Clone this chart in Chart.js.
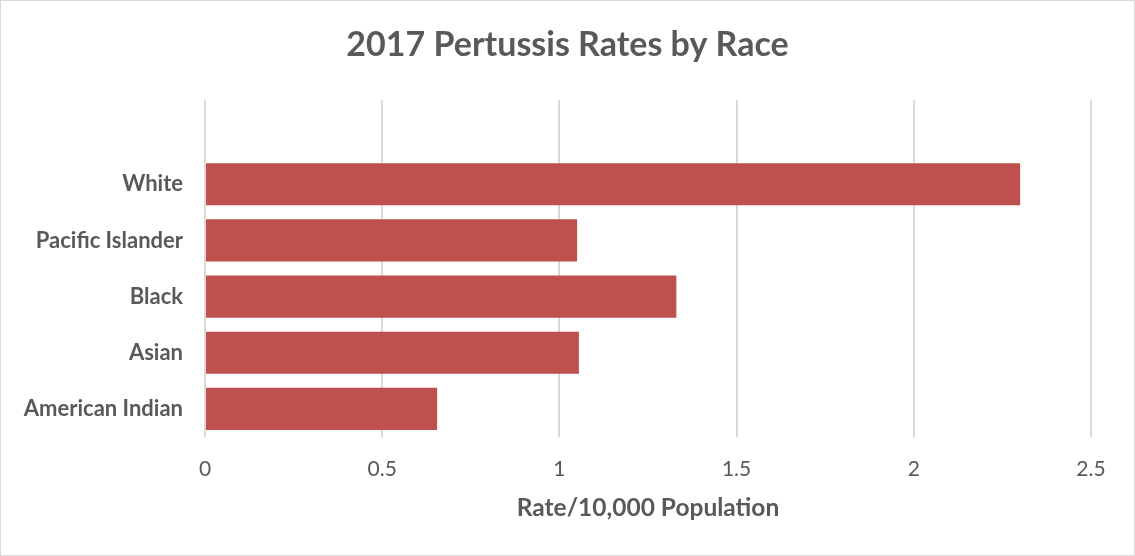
<!DOCTYPE html>
<html>
<head>
<meta charset="utf-8">
<script src="https://cdn.jsdelivr.net/npm/chart.js@4/dist/chart.umd.min.js"></script>
<style>
html,body{margin:0;padding:0;background:#fff;}
#wrap{width:1135px;height:556px;position:relative;}
</style>
</head>
<body>
<div id="wrap"><canvas id="c" width="1135" height="556"></canvas></div>
<script>
const categories = ["", "White", "Pacific Islander", "Black", "Asian", "American Indian"];
const rates = [null, 2.30, 1.05, 1.33, 1.055, 0.655];
const xTicks = [0, 0.5, 1, 1.5, 2, 2.5];
const chartTitle = "2017 Pertussis Rates by Race";
const xTitle = "Rate/10,000 Population";

const FONT = "Lato, 'Open Sans', sans-serif";
const TEXT = "#595959";

const borderPlugin = {
  id: 'frame',
  afterDraw(chart) {
    const ctx = chart.ctx;
    ctx.save();
    ctx.strokeStyle = '#D9D9D9';
    ctx.lineWidth = 1;
    ctx.strokeRect(0.5, 0.5, chart.width - 1, chart.height - 1);
    ctx.restore();
  }
};

new Chart(document.getElementById('c'), {
  type: 'bar',
  data: {
    labels: categories,
    datasets: [{
      data: rates,
      backgroundColor: '#C0504D',
      borderWidth: 0,
      categoryPercentage: 1.0,
      barPercentage: 0.75
    }]
  },
  options: {
    indexAxis: 'y',
    responsive: false,
    animation: false,
    devicePixelRatio: 1,
    layout: { padding: 0 },
    plugins: {
      legend: { display: false },
      tooltip: { enabled: false },
      title: {
        display: true,
        text: chartTitle,
        color: TEXT,
        font: { family: FONT, size: 34, weight: 'bold', lineHeight: 1.2 },
        padding: { top: 25, bottom: 34.2 }
      }
    },
    scales: {
      x: {
        min: 0,
        max: 2.5,
        afterBuildTicks(scale) { scale.ticks = xTicks.map(v => ({ value: v })); },
        afterFit(scale) { scale.height = 119; },
        grid: { color: '#D9D9D9', lineWidth: 2, drawTicks: false },
        border: { display: false },
        ticks: {
          color: TEXT,
          font: { family: FONT, size: 21 },
          padding: 20,
          callback: (v) => String(v)
        },
        title: {
          display: true,
          text: xTitle,
          color: TEXT,
          font: { family: FONT, size: 24.5, weight: 'bold', lineHeight: 1.2 },
          padding: { top: 0, bottom: 33 }
        }
      },
      y: {
        afterFit(scale) { scale.width = 205; },
        grid: { display: false, drawTicks: false },
        border: { display: false },
        ticks: {
          color: TEXT,
          font: { family: FONT, size: 22, weight: 'bold' },
          padding: 22
        }
      },
      yRight: {
        type: 'category',
        position: 'right',
        labels: categories,
        afterFit(scale) { scale.width = 44; },
        grid: { display: false, drawTicks: false },
        border: { display: false },
        ticks: { display: false }
      }
    }
  },
  plugins: [borderPlugin]
});
</script>
</body>
</html>
